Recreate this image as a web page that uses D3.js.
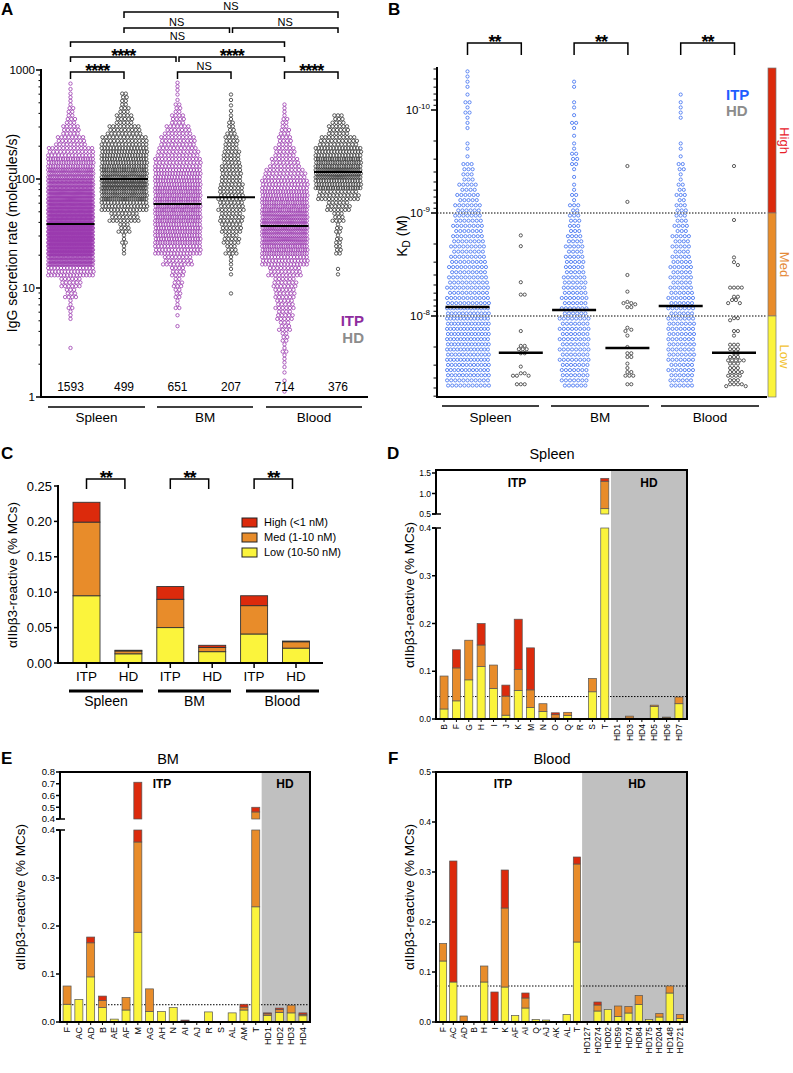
<!DOCTYPE html>
<html><head><meta charset="utf-8">
<script src="https://cdn.jsdelivr.net/npm/d3@7/dist/d3.min.js"></script>
<style>html,body{margin:0;padding:0;background:#fff}</style>
</head><body>
<script>
// ================= DATA =================
// ---- Panel A: IgG secretion rate (molecules/s), counts per 0.1-log10 bin starting at 10^0 ----
const aGroups = ["Spleen","BM","Blood"];
const aSeries = ["Spleen ITP","Spleen HD","BM ITP","BM HD","Blood ITP","Blood HD"];
const aIsITP = [true,false,true,false,true,false];
const aN = [1593,499,651,207,714,376];
const aMedian = [38.6,100,59,68,37,116];
const aTicks = [1,10,100,1000];
const aSpleenITP = [0,0,0,0,1,0,0,3,4,10,18,45,110,190,215,215,165,150,130,105,77,57,40,25,15,8,5,3,2,0];
const aSpleenHD  = [0,0,0,0,0,0,0,0,0,0,0,0,0,3,4,10,25,45,65,80,65,55,50,40,28,15,8,6,0,0];
const aBmITP     = [0,0,0,0,0,0,1,1,4,6,8,12,25,45,55,55,60,62,60,55,50,42,35,30,22,12,6,2,3,0];
const aBmHD      = [0,0,0,0,0,0,0,0,0,1,0,2,3,10,14,18,20,22,22,20,18,16,14,12,7,4,2,2,0,0];
const aBloodITP  = [1,1,2,3,4,6,10,14,16,18,20,28,45,60,70,75,73,62,55,45,35,25,18,12,8,5,3,0,0,0];
const aBloodHD   = [0,0,0,0,0,0,0,0,0,0,0,2,0,6,5,5,10,20,35,55,70,60,48,32,18,10,0,0,0,0];
const aBins = [aSpleenITP,aSpleenHD,aBmITP,aBmHD,aBloodITP,aBloodHD];
const aSig = [ // [from series, to series, label, level]
  ["Spleen ITP","Spleen HD","****",1],["BM ITP","BM HD","NS",1],["Blood ITP","Blood HD","****",1],
  ["Spleen ITP","BM ITP","****",2],["BM ITP","Blood ITP","****",2],
  ["Spleen ITP","Blood ITP","NS",3],
  ["Spleen HD","BM HD","NS",4],["BM HD","Blood HD","NS",4],
  ["Spleen HD","Blood HD","NS",5]];

// ---- Panel B: KD (M); ITP counts per 0.1-log10 bin starting at 10^-10.4, HD individual values ----
const bMedian = [8.2e-9,2.27e-8,8.75e-9,2.04e-8,8.0e-9,2.27e-8];
const bTicks = [1e-10,1e-9,1e-8];
const bTickExp = ["-10","-9","-8"];
const bSpleenITP = [2,2,1,3,3,2,0,2,1,6,6,9,11,13,14,15,16,17,18,19,20,21,22,25,26,26,26,25,25,24,22];
const bBmITP     = [0,2,0,2,1,3,1,2,4,3,1,2,3,5,6,6,8,9,10,10,12,12,13,13,15,15,15,15,15,14,13];
const bBloodITP  = [0,0,1,2,2,0,0,2,1,4,2,4,5,6,6,7,9,9,10,11,11,12,13,13,14,14,14,14,13,13,12];
const bSpleenHD = [1.65e-9,2.1e-9,4.7e-9,6.2e-9,6.2e-9,1.4e-8,1.95e-8,1.95e-8,2.1e-8,2.1e-8,2.1e-8,2.3e-8,2.3e-8,3.1e-8,3.6e-8,3.6e-8,3.8e-8,3.8e-8,3.8e-8,4.6e-8,4.6e-8,4.6e-8];
const bBmHD = [3.5e-10,7.8e-10,4e-9,5.8e-9,7.3e-9,7.5e-9,7.5e-9,7.7e-9,8.2e-9,8.2e-9,1.3e-8,1.36e-8,1.4e-8,1.55e-8,2.0e-8,2.3e-8,2.3e-8,2.5e-8,2.5e-8,2.9e-8,3.2e-8,3.5e-8,3.5e-8,3.8e-8,3.8e-8,3.8e-8,4.6e-8,4.6e-8];
const bBloodHD = [3.5e-10,1.17e-9,2.7e-9,3.0e-9,3.2e-9,5.3e-9,5.3e-9,5.3e-9,5.3e-9,6.5e-9,6.5e-9,7e-9,7e-9,7.5e-9,7.5e-9,1.05e-8,1.05e-8,1.1e-8,1.4e-8,1.4e-8,1.55e-8,1.9e-8,1.9e-8,1.9e-8,2.1e-8,2.1e-8,2.1e-8,2.3e-8,2.3e-8,2.5e-8,2.5e-8,2.5e-8,2.7e-8,2.7e-8,2.7e-8,2.7e-8,2.7e-8,2.9e-8,2.9e-8,2.9e-8,3.2e-8,3.2e-8,3.2e-8,3.5e-8,3.5e-8,3.5e-8,3.5e-8,3.8e-8,3.8e-8,3.8e-8,3.8e-8,4.2e-8,4.2e-8,4.2e-8,4.6e-8,4.6e-8,4.6e-8,4.6e-8,4.8e-8,4.8e-8];
const bITPBins = [bSpleenITP,null,bBmITP,null,bBloodITP,null];
const bHDVals = [null,bSpleenHD,null,bBmHD,null,bBloodHD];
const bClasses = ["High","Med","Low"];

// ---- Panel C: % MCs by affinity class ----
const cSeries = ["Spleen ITP","Spleen HD","BM ITP","BM HD","Blood ITP","Blood HD"];
const cTickLab = ["ITP","HD","ITP","HD","ITP","HD"];
const cLow  = [0.095,0.013,0.050,0.016,0.041,0.021];
const cMed  = [0.104,0.004,0.040,0.006,0.040,0.009];
const cHigh = [0.028,0.001,0.018,0.003,0.014,0.001];
const cLegend = ["High (<1 nM)","Med (1-10 nM)","Low (10-50 nM)"];
const cTicks = [0,0.05,0.10,0.15,0.20,0.25];

// ---- Panel D: Spleen ----
const dCats = ["B","F","G","H","I","J","K","M","N","O","Q","R","S","T","HD1","HD3","HD4","HD5","HD6","HD7"];
const dLow  = [0.021,0.038,0.082,0.110,0.064,0.008,0.060,0.024,0.016,0.002,0.007,0,0.057,0.63,0,0.002,0,0.026,0.003,0.032];
const dMed  = [0.069,0.069,0.083,0.045,0.049,0.040,0.044,0.037,0.016,0.007,0.007,0,0.028,0.67,0,0.004,0,0.003,0.001,0.014];
const dHigh = [0,0.038,0,0.045,0,0.023,0.105,0.088,0,0.004,0,0,0,0.07,0,0,0,0,0,0];
const dThr = 0.047;
const dTicksLow = [0,0.1,0.2,0.3,0.4], dTicksHigh = [0.5,1.0,1.5];

// ---- Panel E: BM ----
const eCats = ["F","AC","AD","B","AE","AF","M","AG","AH","N","AI","AJ","R","S","AL","AM","T","HD1","HD2","HD3","HD4"];
const eLow  = [0.037,0.047,0.094,0.030,0.006,0.025,0.187,0.022,0.022,0.030,0,0,0.021,0,0.019,0.025,0.240,0.014,0.020,0.019,0.013];
const eMed  = [0.038,0,0.071,0.015,0,0.026,0.188,0.047,0,0,0.002,0,0,0,0,0.006,0.220,0.003,0.006,0.016,0.003];
const eHigh = [0,0,0.012,0.009,0,0,0.338,0,0,0,0.002,0,0,0,0,0.006,0.040,0.002,0.003,0,0.003];
const eThr = 0.036;
const eTicksLow = [0,0.1,0.2,0.3,0.4], eTicksHigh = [0.4,0.5,0.6,0.7,0.8];

// ---- Panel F: Blood ----
const fCats = ["F","AC","AD","B","H","I","K","AF","AI","Q","AJ","AK","AL","T","HD127","HD274","HD02","HD59","HD74","HD84","HD175","HD204","HD148","HD721"];
const fLow  = [0.122,0.080,0,0,0.080,0,0.070,0.013,0.028,0.005,0.004,0,0.015,0.160,0,0.022,0.025,0.011,0.018,0.035,0.005,0.010,0.058,0.007];
const fMed  = [0.035,0,0.012,0,0.032,0,0.158,0,0.020,0,0,0,0,0.156,0,0.012,0,0.021,0.013,0.018,0,0.007,0.014,0.008];
const fHigh = [0,0.242,0,0,0,0.060,0.076,0,0.010,0,0,0,0,0.014,0,0.006,0,0,0,0,0,0,0,0];
const fThr = 0.072;
const fTicks = [0,0.1,0.2,0.3,0.4,0.5];

// ================= STYLE =================
const FONT = '"Liberation Sans", Arial, Helvetica, sans-serif';
const PURPLE = "#9b3aae", BLUE = "#3a6cf0", HDC = "#333333";
const COLORS = {low:"#fbf43c", med:"#e88c2a", high:"#dc2a0c"};
const GREY = "#c0c0c0", BAR_STROKE = "#555";
const YLAB = "\u03b1IIb\u03b23-reactive (% MCs)";

const svg = d3.select("body").append("svg").attr("width",793).attr("height",1073).style("display","block");
svg.append("rect").attr("width",793).attr("height",1073).attr("fill","#fff");

function txt(g,x,y,s,o={}){
  const t=g.append("text").attr("x",x).attr("y",y).attr("font-family",FONT)
    .attr("font-size",o.size||12).attr("fill",o.fill||"#000").attr("text-anchor",o.anchor||"start");
  if(o.bold) t.attr("font-weight","bold");
  if(o.ls!=null) t.attr("letter-spacing",o.ls);
  if(o.rot!=null) t.attr("transform",`rotate(${o.rot},${x},${y})`);
  if(s!=null) t.text(s);
  return t;
}
function ln(g,x1,y1,x2,y2,o={}){
  const l=g.append("line").attr("x1",x1).attr("y1",y1).attr("x2",x2).attr("y2",y2)
    .attr("stroke",o.c||"#000").attr("stroke-width",o.w||1);
  if(o.dash) l.attr("stroke-dasharray",o.dash);
  return l;
}
function bracket(g,xa,xb,y,drop,label,starDy){
  g.append("path").attr("d",`M${xa},${y+drop}V${y}H${xb}V${y+drop}`)
    .attr("fill","none").attr("stroke","#000").attr("stroke-width",1.5);
  if(label.indexOf("*")>=0) txt(g,(xa+xb)/2,y+starDy,label,{size:18,bold:true,anchor:"middle",ls:-1});
  else txt(g,(xa+xb)/2,y-2.5,label,{size:11,anchor:"middle"});
}
function binnedPoints(counts,log0,step,yScale,cx,colW,rad,rows,gap){
  const pts=[];
  counts.forEach((c,i)=>{
    if(!c) return;
    const ya=yScale(Math.pow(10,log0+i*step)), yb=yScale(Math.pow(10,log0+(i+1)*step));
    const nr=Math.min(rows,c);
    for(let r=0;r<nr;r++){
      const k=Math.floor(c/nr)+(r<c%nr?1:0);
      const yy=ya+(yb-ya)*(r+0.5)/nr;
      const sp=k>1?Math.min(gap,(colW-2*rad)/(k-1)):0;
      const shift=(r%2 && k>1)?sp*0.25:0;
      for(let j=0;j<k;j++) pts.push([cx+(j-(k-1)/2)*sp+shift,yy]);
    }
  });
  return pts;
}
function swarm(vals,yScale,cx,d){
  const placed=[];
  vals.slice().sort((a,b)=>a-b).forEach(v=>{
    const y=yScale(v);
    for(let k=0;k<60;k++){
      const off=k===0?0:(k%2?1:-1)*Math.ceil(k/2)*d*0.5;
      const x=cx+off;
      if(placed.every(p=>(p[0]-x)**2+(p[1]-y)**2>=d*d*0.9)){placed.push([x,y]);break;}
    }
  });
  return placed;
}
function dots(g,pts,r,col,w){
  g.append("g").selectAll("circle").data(pts).join("circle")
    .attr("cx",d=>d[0]).attr("cy",d=>d[1]).attr("r",r)
    .attr("fill","none").attr("stroke",col).attr("stroke-width",w);
}

// Panel letters
[["A",1,15],["B",388,15],["C",1,459],["D",387,459],["E",1,764],["F",388,764]].forEach(([s,x,y])=>
  txt(svg,x,y,s,{size:17,bold:true}));

// ================= PANEL A =================
(function(){
  const g=svg.append("g");
  const y=d3.scaleLog().domain([1,1000]).range([397,70]);
  const x=d3.scalePoint().domain(aSeries).range([70.5,338]);
  aSeries.forEach((s,i)=>{
    dots(g,binnedPoints(aBins[i],0,0.1,y,x(s),48,1.7,3,3.6),1.7,aIsITP[i]?PURPLE:HDC,0.8);
  });
  aSeries.forEach((s,i)=>{
    ln(g,x(s)-24,y(aMedian[i]),x(s)+24,y(aMedian[i]),{w:2});
    txt(g,x(s),391,aN[i],{size:12,anchor:"middle"});
  });
  ln(g,41,69,41,398,{w:2});
  ln(g,40,397,368,397,{w:2});
  aTicks.forEach(v=>{ln(g,36,y(v),41,y(v),{w:1.5}); txt(g,35,y(v)+4,String(v),{size:11.5,anchor:"end"});});
  for(let e=0;e<3;e++) for(let m=2;m<10;m++){const v=m*Math.pow(10,e); ln(g,38.5,y(v),41,y(v),{w:1});}
  txt(g,17,233,"IgG secretion rate (molecules/s)",{size:14,anchor:"middle",rot:-90});
  const grp=[[48,145],[157,253],[266,362]];
  grp.forEach((r,i)=>{ln(g,r[0],407,r[1],407,{w:1.5}); txt(g,(r[0]+r[1])/2,422,aGroups[i],{size:13.5,anchor:"middle"});});
  txt(g,364,326,"ITP",{size:15,bold:true,anchor:"end",fill:"#8e2c9e"});
  txt(g,364,343,"HD",{size:15,bold:true,anchor:"end",fill:"#8c8c8c"});
  const lev={1:72,2:57,3:42,4:28,5:12};
  const drop={1:7,2:5,3:5,4:5,5:6};
  aSig.forEach(([a,b,l,k])=>{
    let xa=x(a), xb=x(b);
    if(a==="BM ITP"&&b==="Blood ITP") xa+=1.5;
    if(a==="Spleen ITP"&&b==="BM ITP") xb-=1.5;
    if(a==="BM HD"&&b==="Blood HD") xa+=1.5;
    if(a==="Spleen HD"&&b==="BM HD") xb-=1.5;
    bracket(g,xa,xb,lev[k],drop[k],l,5);
  });
})();

// ================= PANEL B =================
(function(){
  const g=svg.append("g");
  const y=d3.scaleLog().domain([1e-10,1e-8]).range([110,316]);
  const x=d3.scalePoint().domain(aSeries).range([467.5,734]);
  bTicks.slice(1).forEach(v=>ln(g,437,y(v),766,y(v),{w:1,dash:"1.5,1.5"}));
  aSeries.forEach((s,i)=>{
    if(bITPBins[i]) dots(g,binnedPoints(bITPBins[i],-10.4,0.1,y,x(s),44,1.6,2,4.1),1.6,BLUE,0.8);
    else dots(g,swarm(bHDVals[i],y,x(s),3.9),1.6,HDC,0.8);
  });
  aSeries.forEach((s,i)=>ln(g,x(s)-22,y(bMedian[i]),x(s)+22,y(bMedian[i]),{w:2.5}));
  ln(g,437,67,437,398,{w:2});
  ln(g,436,397,767,397,{w:2});
  bTicks.forEach((v,i)=>{
    ln(g,431,y(v),437,y(v),{w:1.5});
    const t=txt(g,430,y(v)+4,null,{size:11.5,anchor:"end"});
    t.append("tspan").text("10");
    t.append("tspan").attr("dy",-5).attr("font-size",8).text(bTickExp[i]);
  });
  const yTop=y.invert(68), yBot=y.invert(397);
  for(let e=-11;e<=-8;e++) for(let m=2;m<10;m++){const v=m*Math.pow(10,e); if(v>=yTop&&v<=yBot) ln(g,433.5,y(v),437,y(v),{w:1});}
  const kl=txt(g,407,236,null,{size:14,anchor:"middle",rot:-90});
  kl.append("tspan").text("K");
  kl.append("tspan").attr("dy",3).attr("font-size",10).text("D");
  kl.append("tspan").attr("dy",-3).text(" (M)");
  const grp=[[442,539],[551,649],[661,759]];
  grp.forEach((r,i)=>{ln(g,r[0],406,r[1],406,{w:1.5}); txt(g,(r[0]+r[1])/2,422,aGroups[i],{size:13.5,anchor:"middle"});});
  const bands=[[y.invert(68),1e-9,COLORS.high],[1e-9,1e-8,COLORS.med],[1e-8,y.invert(397),COLORS.low]];
  bands.forEach(([a,b,c])=>g.append("rect").attr("x",768).attr("y",y(a)).attr("width",8).attr("height",y(b)-y(a)).attr("fill",c).attr("stroke","#777").attr("stroke-width",0.7));
  const labCols=["#e8202a","#e58a3a","#f2c232"];
  bands.forEach(([a,b],i)=>txt(g,780,(y(a)+y(b))/2,bClasses[i],{size:13,anchor:"middle",rot:90,fill:labCols[i]}));
  txt(g,726,100,"ITP",{size:15,bold:true,fill:"#1f5dff"});
  txt(g,726,116,"HD",{size:15,bold:true,fill:"#8c8c8c"});
  [["Spleen ITP","Spleen HD"],["BM ITP","BM HD"],["Blood ITP","Blood HD"]].forEach(([a,b])=>bracket(g,x(a),x(b)+0.5,43,12,"**",5));
})();

// ================= PANEL C =================
(function(){
  const g=svg.append("g");
  const y=d3.scaleLinear().domain([0,0.25]).range([663,486]);
  const x=d3.scalePoint().domain(cSeries).range([86.5,296]);
  const rows=cSeries.map((s,i)=>({s,low:cLow[i],med:cMed[i],high:cHigh[i]}));
  const st=d3.stack().keys(["low","med","high"])(rows);
  st.forEach(layer=>layer.forEach(d=>{
    if(d[1]-d[0]<=0) return;
    g.append("rect").attr("x",x(d.data.s)-13.5).attr("y",y(d[1])).attr("width",27).attr("height",y(d[0])-y(d[1]))
      .attr("fill",COLORS[layer.key]).attr("stroke","#333").attr("stroke-width",0.9);
  }));
  ln(g,58,485,58,664,{w:2});
  ln(g,57,663,323,663,{w:2});
  cTicks.forEach(v=>{ln(g,54,y(v),58,y(v),{w:1.5}); txt(g,52,y(v)+4.5,d3.format(".2f")(v),{size:13,anchor:"end"});});
  cSeries.forEach((s,i)=>{ln(g,x(s),663,x(s),668,{w:1.5}); txt(g,x(s),681,cTickLab[i],{size:13.5,anchor:"middle"});});
  const grp=[[69,143],[158,231],[246,319]];
  grp.forEach((r,i)=>{ln(g,r[0],691,r[1],691,{w:3}); txt(g,(r[0]+r[1])/2,706,aGroups[i],{size:14,anchor:"middle"});});
  txt(g,17,575,YLAB,{size:13.5,anchor:"middle",rot:-90});
  const lk=["high","med","low"];
  cLegend.forEach((l,i)=>{
    g.append("rect").attr("x",242).attr("y",518+i*15).attr("width",15).attr("height",9).attr("fill",COLORS[lk[i]]).attr("stroke","#222").attr("stroke-width",1);
    txt(g,264,526+i*15,l,{size:11});
  });
  [["Spleen ITP","Spleen HD"],["BM ITP","BM HD"],["Blood ITP","Blood HD"]].forEach(([a,b])=>bracket(g,x(a),x(b)-3.5,479,10,"**",4.5));
})();

// ================= BAR PANELS D/E/F =================
function barPanel(o){
  const g=svg.append("g");
  const x=d3.scaleBand().domain(o.cats).range([o.x0,o.x1]).paddingInner(o.pi).paddingOuter(o.po);
  const bw=x.bandwidth();
  const cx=c=>x(c)+bw/2;
  const hx=(cx(o.cats[o.nITP-1])+cx(o.cats[o.nITP]))/2;
  g.append("rect").attr("x",hx).attr("y",o.yTop).attr("width",o.x1-hx).attr("height",o.yBot-o.yTop).attr("fill",GREY);
  const s0=o.segs[0].scale;
  ln(g,o.x0,s0(o.thr),o.x1,s0(o.thr),{w:1,dash:"1.5,1.5"});
  const rows=o.cats.map((c,i)=>({cat:c,low:o.low[i],med:o.med[i],high:o.high[i]}));
  const st=d3.stack().keys(["low","med","high"])(rows);
  st.forEach(layer=>layer.forEach(d=>{
    o.segs.forEach(s=>{
      const a=Math.max(d[0],s.lo), b=Math.min(d[1],s.hi);
      if(b-a>1e-9) g.append("rect").attr("x",x(d.data.cat)).attr("y",s.scale(b)).attr("width",bw)
        .attr("height",s.scale(a)-s.scale(b)).attr("fill",COLORS[layer.key]).attr("stroke",BAR_STROKE).attr("stroke-width",0.7);
    });
  }));
  ln(g,o.x0-1,o.yTop,o.x1+1,o.yTop,{w:2});
  ln(g,o.x1,o.yTop,o.x1,o.yBot,{w:2});
  ln(g,o.x0-1,o.yBot,o.x1+1,o.yBot,{w:2});
  o.segs.forEach((s,si)=>{
    ln(g,o.x0,s.y0+(si===0?1:0),o.x0,s.y1-(si===o.segs.length-1?1:0),{w:2});
    s.ticks.forEach(t=>{const yy=s.scale(t); ln(g,o.x0-4,yy,o.x0,yy,{w:1.5}); txt(g,o.x0-5,yy+o.tf*0.36,d3.format(".1f")(t),{size:o.tf,anchor:"end"});});
    if(o.segs.length>1){const yc=si===0?s.y1:s.y0; ln(g,o.x0-4,yc,o.x0+5,yc,{w:1.5});}
  });
  o.cats.forEach(c=>{ln(g,cx(c),o.yBot,cx(c),o.yBot+3,{w:1}); txt(g,cx(c)+o.cf*0.36,o.yBot+5,c,{size:o.cf,anchor:"end",rot:-90});});
  txt(g,o.title[1],o.title[2],o.title[0],{size:14.5,anchor:"middle"});
  txt(g,o.itp[0],o.itp[1],"ITP",{size:12,bold:true,anchor:"middle"});
  txt(g,o.hd[0],o.hd[1],"HD",{size:12,bold:true,anchor:"middle"});
  txt(g,o.yl[0],o.yl[1],YLAB,{size:13.5,anchor:"middle",rot:-90});
}
(function(){
  const lo=d3.scaleLinear().domain([0,0.4]).range([719,528]);
  const hi=d3.scaleLinear().domain([0.5,1.5]).range([514,473]);
  barPanel({cats:dCats,low:dLow,med:dMed,high:dHigh,nITP:14,x0:436,x1:687,yTop:470,yBot:719,pi:0.35,po:0.325,
    segs:[{scale:lo,lo:0,hi:0.4,ticks:dTicksLow,y0:719,y1:528},{scale:hi,lo:0.5,hi:hi.invert(470),ticks:dTicksHigh,y0:514,y1:470}],
    thr:dThr,tf:8.5,cf:8.5,title:["Spleen",552,459],itp:[517,487],hd:[649,487],yl:[414,595]});
})();
(function(){
  const lo=d3.scaleLinear().domain([0,0.4]).range([1022,830]);
  const hi=d3.scaleLinear().domain([0.4,0.8]).range([819,772]);
  barPanel({cats:eCats,low:eLow,med:eMed,high:eHigh,nITP:17,x0:60,x1:310,yTop:772,yBot:1022,pi:0.32,po:0.26,
    segs:[{scale:lo,lo:0,hi:0.4,ticks:eTicksLow,y0:1022,y1:830},{scale:hi,lo:0.4,hi:0.8,ticks:eTicksHigh,y0:819,y1:772}],
    thr:eThr,tf:9.5,cf:9,title:["BM",168,764],itp:[162,788],hd:[285,788],yl:[25,897]});
})();
(function(){
  const s=d3.scaleLinear().domain([0,0.5]).range([1022,772]);
  barPanel({cats:fCats,low:fLow,med:fMed,high:fHigh,nITP:14,x0:436,x1:687,yTop:772,yBot:1022,pi:0.29,po:0.325,
    segs:[{scale:s,lo:0,hi:0.5,ticks:fTicks,y0:1022,y1:772}],
    thr:fThr,tf:8.5,cf:8.5,title:["Blood",552,764],itp:[503,788],hd:[637,788],yl:[414,897]});
})();
</script>
</body></html>
